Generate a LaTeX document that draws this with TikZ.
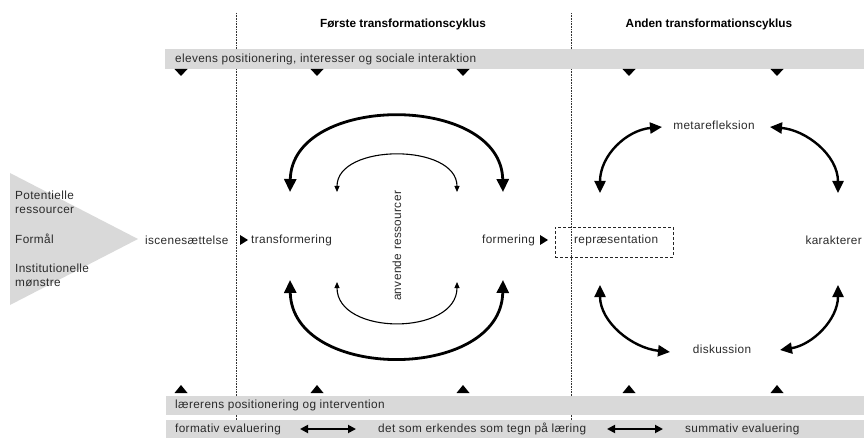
\documentclass[tikz,border=0pt]{standalone}
\usepackage{fontspec}
\setmainfont{Liberation Sans}[LetterSpace=3]
\newfontfamily\ttlfont{Liberation Sans}
\usetikzlibrary{arrows.meta}
\definecolor{bandgray}{HTML}{D9D9D9}
\definecolor{txt}{HTML}{2A2A2A}
\begin{document}
\begin{tikzpicture}[x=1pt,y=-1pt,
  font=\fontsize{11.8}{13}\selectfont,
  lbl/.style={inner sep=0pt, text=txt},
  ttl/.style={inner sep=0pt, font=\ttlfont\fontsize{11.8}{13}\selectfont\bfseries},
  band/.style={fill=bandgray, draw=none},
  divider/.style={densely dotted, line width=0.6pt, black!80},
  bigarc/.style={line width=2.8pt, {Triangle[length=13pt,width=12pt]}-{Triangle[length=13pt,width=12pt]}},
  midarc/.style={line width=2.4pt, {Triangle[length=12pt,width=11pt]}-{Triangle[length=12pt,width=11pt]}},
  thinarc/.style={line width=1.1pt, {Triangle[length=6pt,width=5pt]}-{Triangle[length=6pt,width=5pt]}},
  evalarrow/.style={line width=1.8pt, {Triangle[length=8pt,width=8pt]}-{Triangle[length=8pt,width=8pt]}},
  dtri/.pic={\fill (-6.5,0) -- (6.5,0) -- (0,7) -- cycle;},
  utri/.pic={\fill (-6.5,0) -- (6.5,0) -- (0,-8) -- cycle;},
  rtri/.pic={\fill (0,-5) -- (8,0) -- (0,5) -- cycle;}
]
\useasboundingbox (0,0) rectangle (864,438);

% dividers
\coordinate (d1t) at (236,13); \coordinate (d1b) at (236,420);
\coordinate (d2t) at (571,13); \coordinate (d2b) at (571,420);
\draw[divider] (d1t) -- (d1b);
\draw[divider] (d2t) -- (d2b);

% titles
\node[ttl] (t1) at (403,24) {Første transformationscyklus};
\node[ttl] (t2) at (709,24) {Anden transformationscyklus};

% bands
\fill[band] (165,49) rectangle (864,69);
\fill[band] (166,396) rectangle (864,415);
\fill[band] (166,420) rectangle (864,438);
\node[lbl, anchor=west] (elev) at (175,59) {elevens positionering, interesser og sociale interaktion};
\node[lbl, anchor=west] (laer) at (175,405.5) {lærerens positionering og intervention};
\node[lbl, anchor=west] (form) at (175,429) {formativ evaluering};
\node[lbl, anchor=west] (tegn) at (378,429) {det som erkendes som tegn på læring};
\node[lbl, anchor=west] (summ) at (685,429) {summativ evaluering};
\coordinate (e1a) at (300,429); \coordinate (e1b) at (356,429);
\coordinate (e2a) at (607,429); \coordinate (e2b) at (663,429);
\draw[evalarrow] (e1a) -- (e1b);
\draw[evalarrow] (e2a) -- (e2b);

% small triangles
\foreach \x in {181,317,463,629,777} {
  \pic at (\x,69) {dtri};
  \pic at (\x,393) {utri};
}

% left funnel
\fill[bandgray] (10,173) -- (138,239) -- (10,305) -- cycle;
\node[lbl, anchor=west] (pot1) at (15,195) {Potentielle};
\node[lbl, anchor=west] (pot2) at (15,210) {ressourcer};
\node[lbl, anchor=west] (formaal) at (15,239) {Formål};
\node[lbl, anchor=west] (inst1) at (15,268) {Institutionelle};
\node[lbl, anchor=west] (inst2) at (15,283) {mønstre};

% main row
\node[lbl, anchor=west] (isc) at (145,240) {iscenesættelse};
\pic at (240,240) {rtri};
\node[lbl, anchor=west] (trans) at (251,240) {transformering};
\node[lbl, anchor=west] (formering) at (482,240) {formering};
\pic at (540,240) {rtri};
\node[draw=black!85, densely dashed, line width=0.6pt, minimum width=118pt, minimum height=30pt, inner sep=0pt] (repr) at (614,242) {};
\node[lbl, anchor=west] (reprtxt) at (574,240) {repræsentation};
\node[lbl, anchor=east] (karak) at (862,240) {karakterer};
\node[lbl] (meta) at (714,125) {metarefleksion};
\node[lbl] (disk) at (722,349) {diskussion};
\node[lbl, rotate=90] (anv) at (397,246) {anvende ressourcer};

% first cycle arcs
\coordinate (o1) at (290,192); \coordinate (o2) at (503,192);
\coordinate (o3) at (290,280); \coordinate (o4) at (503,280);
\coordinate (i1) at (337,192); \coordinate (i2) at (457,192);
\coordinate (i3) at (337,282); \coordinate (i4) at (457,282);
\draw[bigarc] (o1) .. controls (292,93) and (501,93) .. (o2);
\draw[bigarc] (o3) .. controls (292,382) and (501,382) .. (o4);
\draw[thinarc] (i1) .. controls (337,143) and (457,143) .. (i2);
\draw[thinarc] (i3) .. controls (337,336) and (457,336) .. (i4);

% second cycle arcs
\coordinate (a1) at (600,193); \coordinate (a2) at (662,127);
\coordinate (b1) at (770,127); \coordinate (b2) at (838,193);
\coordinate (c1) at (600,285); \coordinate (c2) at (670,352);
\coordinate (d1) at (838,285); \coordinate (d2) at (780,350);
\draw[midarc] (a1) .. controls (600,155) and (627,130) .. (a2);
\draw[midarc] (b1) .. controls (806,130) and (838,155) .. (b2);
\draw[midarc] (c1) .. controls (600,322) and (632,348) .. (c2);
\draw[midarc] (d1) .. controls (838,320) and (812,345) .. (d2);
\end{tikzpicture}
\end{document}
